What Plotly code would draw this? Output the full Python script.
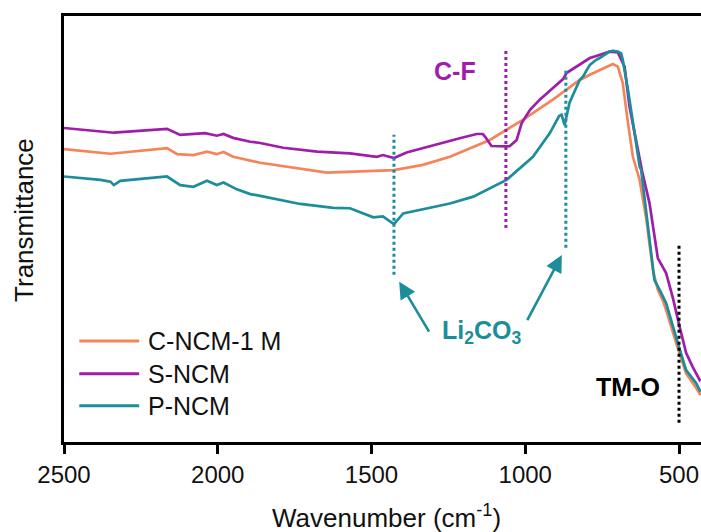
import plotly.graph_objects as go

# FTIR transmittance spectra (arbitrary units), wavenumber in cm-1
wn_c = [2500, 2404, 2349, 2165, 2132, 2079, 2035, 2003, 1981, 1950, 1894, 1862,
        1645, 1570, 1427, 1333, 1278, 1245, 1115, 1008, 910, 823, 790, 769,
        715, 699, 683, 666, 650, 628, 606, 585, 569, 553, 542, 509, 477, 444, 430]
t_c = [68.5, 67.9, 67.4, 68.7, 67.3, 67.1, 67.9, 67.3, 67.8, 66.7, 65.7, 65.3,
       63.0, 63.2, 63.6, 64.8, 66.0, 66.7, 70.6, 75.3, 80.0, 84.6, 85.8, 86.5,
       88.3, 87.7, 83.9, 74.6, 66.7, 61.3, 52.0, 40.3, 35.7, 33.3, 31.0, 23.2, 16.2, 12.8, 11.2]

wn_s = [2500, 2338, 2165, 2122, 2041, 2003, 1981, 1950, 1894, 1862, 1787, 1677,
        1570, 1483, 1463, 1427, 1386, 1245, 1213, 1158, 1138, 1131, 1115, 1110,
        1061, 1050, 1028, 1012, 985, 953, 910, 877, 866, 823, 790, 769, 726,
        699, 677, 661, 639, 620, 596, 580, 569, 542, 520, 498, 477, 456, 433, 430]
t_s = [73.4, 72.3, 73.2, 71.8, 72.2, 71.6, 72.0, 71.1, 70.2, 69.9, 68.8, 67.9,
       67.5, 66.7, 67.1, 66.4, 67.7, 70.5, 71.0, 72.0, 72.0, 71.4, 69.5, 69.2,
       69.1, 69.2, 70.6, 74.5, 77.6, 80.0, 82.7, 84.8, 86.2, 88.1, 89.7, 90.2, 91.2,
       91.0, 87.7, 78.4, 70.6, 63.3, 55.9, 48.1, 43.1, 39.6, 33.8, 27.1, 21.0, 17.8, 14.7, 15.0]

wn_p = [2500, 2381, 2349, 2338, 2317, 2165, 2122, 2079, 2035, 2003, 1981, 1938,
        1894, 1862, 1732, 1624, 1570, 1494, 1463, 1427, 1397, 1333, 1245, 1169,
        1061, 975, 920, 890, 882, 872, 856, 823, 812, 790, 769, 758, 726, 715,
        699, 688, 683, 666, 650, 628, 623, 596, 585, 580, 563, 542, 504, 477, 444, 430]
t_p = [62.1, 61.3, 60.9, 60.1, 61.1, 62.1, 60.1, 59.7, 61.1, 60.1, 60.7, 59.1,
       58.0, 57.6, 55.7, 54.8, 54.7, 52.6, 52.8, 51.0, 53.5, 54.5, 55.8, 57.4,
       61.3, 66.7, 72.2, 76.2, 76.5, 74.1, 79.3, 84.6, 85.4, 88.1, 89.3, 89.7, 91.2, 91.4,
       91.2, 90.8, 89.3, 82.3, 74.6, 64.4, 63.6, 48.1, 41.9, 38.0, 35.7, 32.6, 23.3, 17.0, 13.9, 11.9]

names = ["C-NCM-1 M", "S-NCM", "P-NCM"]
colors = ["#F5845A", "#A01DAB", "#1C8D9A"]

# Band guides: wavenumber and vertical extent
li2co3_bands = [1427, 868]
li2co3_span = [(39.2, 71.8), (45.5, 86.9)]
cf_band = 1063
cf_span = (50.1, 91.8)
tmo_band = 500
tmo_span = (4.7, 46.2)

FONT = "Arial, Liberation Sans, Helvetica, sans-serif"

fig = go.Figure()
for wn, t, name, col in zip([wn_c, wn_s, wn_p], [t_c, t_s, t_p], names, colors):
    fig.add_trace(go.Scatter(x=wn, y=t, mode="lines", name=name,
                             line=dict(color=col, width=2.7), showlegend=False))

# dotted band guides
for b, (y0, y1) in zip(li2co3_bands, li2co3_span):
    fig.add_shape(type="line", x0=b, x1=b, y0=y0, y1=y1, xref="x", yref="y",
                  line=dict(color=colors[2], width=3, dash="dot"))
fig.add_shape(type="line", x0=cf_band, x1=cf_band, y0=cf_span[0], y1=cf_span[1],
              line=dict(color=colors[1], width=3, dash="dot"))
fig.add_shape(type="line", x0=tmo_band, x1=tmo_band, y0=tmo_span[0], y1=tmo_span[1],
              line=dict(color="black", width=3, dash="dot"))

# band labels
fig.add_annotation(x=1229, y=86.7, text="<b>C-F</b>", showarrow=False,
                   font=dict(family=FONT, size=25, color=colors[1]))
fig.add_annotation(x=667, y=13.1, text="<b>TM-O</b>", showarrow=False,
                   font=dict(family=FONT, size=25, color="black"))
fig.add_annotation(x=1143, y=25.8, text="<b>Li<sub>2</sub>CO<sub>3</sub></b>", showarrow=False,
                   font=dict(family=FONT, size=25, color=colors[2]))
# arrows pointing to the carbonate bands
for hx, hy, tx, ty in [(1410, 37.6, 1310, 25.6), (881, 43.8, 996, 28.3)]:
    fig.add_annotation(x=hx, y=hy, ax=tx, ay=ty, xref="x", yref="y", axref="x", ayref="y",
                       text="", showarrow=True, arrowhead=2, arrowsize=1.3,
                       arrowwidth=2.6, arrowcolor=colors[2])

# legend drawn as line samples + labels
leg_y = [0.237, 0.160, 0.085]
for yy, name, col in zip(leg_y, names, colors):
    fig.add_shape(type="line", xref="paper", yref="paper", x0=0.024, x1=0.118, y0=yy, y1=yy,
                  line=dict(color=col, width=3))
    fig.add_annotation(xref="paper", yref="paper", x=0.128, y=yy, text=name, showarrow=False,
                       xanchor="left", yanchor="middle",
                       font=dict(family=FONT, size=25, color="#111111"))

# axis titles
fig.add_annotation(xref="paper", yref="paper", x=0.507, y=-0.176, xanchor="center",
                   yanchor="middle", text="Wavenumber (cm<sup>-1</sup>)", showarrow=False,
                   font=dict(family=FONT, size=26, color="#111111"))
fig.add_annotation(xref="paper", yref="paper", x=-0.063, y=0.521, textangle=-90,
                   xanchor="center", yanchor="middle",
                   text="Transmittance", showarrow=False,
                   font=dict(family=FONT, size=26, color="#111111"))

fig.update_layout(
    width=701, height=532,
    margin=dict(l=64, r=0, t=16, b=90),
    plot_bgcolor="white", paper_bgcolor="white",
    font=dict(family=FONT, size=24, color="#111111"),
)
fig.update_xaxes(range=[2500, 428.5], showgrid=False, zeroline=False,
                 showline=True, linecolor="black", linewidth=3, mirror=True,
                 ticks="outside", ticklen=9, tickwidth=2.5, tickcolor="black",
                 tickvals=[2500, 2000, 1500, 1000, 500],
                 tickfont=dict(family=FONT, size=24, color="#111111"))
fig.update_yaxes(range=[0.23, 99.5], showgrid=False, zeroline=False,
                 showline=True, linecolor="black", linewidth=3,
                 showticklabels=False, ticks="")

fig.write_html("out.html")
